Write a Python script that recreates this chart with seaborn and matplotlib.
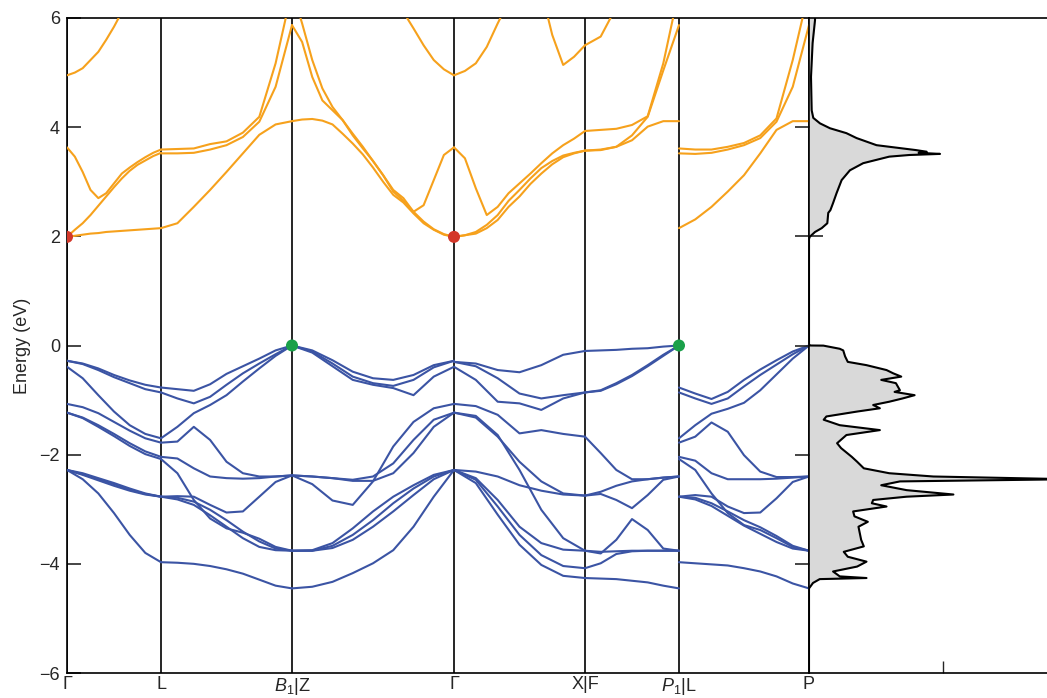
import matplotlib
matplotlib.use("Agg")
import matplotlib.pyplot as plt
import numpy as np
import pandas as pd
import seaborn as sns

sns.set_theme(style="white")
plt.rcParams["font.family"] = ["Liberation Sans", "DejaVu Sans"]
plt.rcParams["mathtext.fontset"] = "custom"
plt.rcParams["mathtext.rm"] = "Liberation Sans"
plt.rcParams["mathtext.it"] = "Liberation Sans:italic"

# ---------------- high-symmetry path ----------------
kpath_pos = [0.0, 0.94, 2.25, 3.87, 5.18, 6.12, 7.42]
kpath_labels = ["Γ", "L", "$B_1$|Z", "Γ", "X|F", "$P_1$|L", "P"]

# ---------------- k grids of the path segments (valence) ----------------
k_gamma_L = [0.0, 0.157, 0.313, 0.47, 0.627, 0.783, 0.94]
k_L_B1 = [0.94, 1.104, 1.268, 1.431, 1.595, 1.759, 1.923, 2.086, 2.25]
k_Z_gamma = [2.25, 2.4525, 2.655, 2.8575, 3.06, 3.2625, 3.465, 3.6675, 3.87]
k_gamma_X = [3.87, 4.088, 4.307, 4.525, 4.743, 4.962, 5.18]
k_F_P1 = [5.18, 5.337, 5.493, 5.65, 5.807, 5.963, 6.12]
k_L_P = [6.12, 6.2825, 6.445, 6.6075, 6.77, 6.9325, 7.095, 7.2575, 7.42]

# ---------------- k grids (conduction, denser where curved) ----------------
kc_gamma_L = [0.0, 0.0783, 0.1567, 0.235, 0.3133, 0.3917, 0.47, 0.5483, 0.6267,
              0.705, 0.7833, 0.8617, 0.94]
kc_L_B1 = k_L_B1
kc_Z_gamma = [2.25, 2.35125, 2.4525, 2.55375, 2.655, 2.75625, 2.8575, 2.95875, 3.06,
              3.16125, 3.2625, 3.36375, 3.465, 3.56625, 3.6675, 3.76875, 3.87]
kc_gamma_X = [3.87, 3.9792, 4.0883, 4.1975, 4.3067, 4.4158, 4.525, 4.6342, 4.7433,
              4.8525, 4.9617, 5.0708, 5.18]
kc_F_P1 = k_F_P1
kc_L_P = k_L_P

# ---------------- valence bands (eV) ----------------
vb_gamma_L = [
    [-0.28, -0.33, -0.42, -0.54, -0.64, -0.72, -0.77],
    [-0.28, -0.34, -0.45, -0.58, -0.69, -0.80, -0.86],
    [-0.39, -0.60, -0.91, -1.21, -1.46, -1.62, -1.70],
    [-1.07, -1.13, -1.24, -1.40, -1.56, -1.70, -1.78],
    [-1.23, -1.32, -1.46, -1.62, -1.79, -1.94, -2.04],
    [-1.23, -1.33, -1.49, -1.66, -1.84, -1.99, -2.08],
    [-2.28, -2.34, -2.43, -2.52, -2.62, -2.71, -2.77],
    [-2.28, -2.36, -2.45, -2.54, -2.64, -2.72, -2.77],
    [-2.28, -2.37, -2.47, -2.57, -2.66, -2.73, -2.77],
    [-2.28, -2.45, -2.71, -3.07, -3.47, -3.80, -3.97],
]
vb_L_B1 = [
    [-0.77, -0.80, -0.83, -0.71, -0.52, -0.38, -0.24, -0.09, 0.00],
    [-0.86, -0.97, -1.06, -0.94, -0.72, -0.51, -0.33, -0.16, 0.00],
    [-1.70, -1.49, -1.24, -1.09, -0.91, -0.66, -0.42, -0.19, 0.00],
    [-1.78, -1.76, -1.49, -1.73, -2.13, -2.34, -2.40, -2.40, -2.38],
    [-2.04, -2.07, -2.25, -2.40, -2.43, -2.44, -2.43, -2.40, -2.38],
    [-2.08, -2.34, -2.83, -3.17, -3.35, -3.43, -3.54, -3.69, -3.76],
    [-2.77, -2.76, -2.77, -2.92, -3.06, -3.04, -2.77, -2.50, -2.38],
    [-2.77, -2.79, -2.86, -3.01, -3.20, -3.41, -3.59, -3.72, -3.76],
    [-2.77, -2.82, -2.92, -3.11, -3.32, -3.53, -3.69, -3.75, -3.76],
    [-3.97, -3.98, -4.00, -4.04, -4.10, -4.18, -4.29, -4.40, -4.45],
]
vb_Z_gamma = [
    [0.00, -0.09, -0.27, -0.48, -0.60, -0.63, -0.54, -0.36, -0.28],
    [0.00, -0.11, -0.33, -0.57, -0.69, -0.74, -0.63, -0.40, -0.28],
    [0.00, -0.13, -0.38, -0.63, -0.72, -0.78, -0.91, -0.57, -0.39],
    [-2.38, -2.54, -2.84, -2.92, -2.49, -1.85, -1.40, -1.15, -1.07],
    [-2.38, -2.40, -2.43, -2.46, -2.40, -2.16, -1.73, -1.36, -1.23],
    [-2.38, -2.40, -2.43, -2.48, -2.48, -2.34, -1.97, -1.49, -1.23],
    [-3.76, -3.75, -3.62, -3.35, -3.04, -2.77, -2.56, -2.37, -2.28],
    [-3.76, -3.76, -3.67, -3.47, -3.20, -2.89, -2.62, -2.40, -2.28],
    [-3.76, -3.76, -3.71, -3.56, -3.32, -3.04, -2.74, -2.45, -2.28],
    [-4.45, -4.42, -4.33, -4.17, -3.99, -3.75, -3.32, -2.77, -2.28],
]
vb_gamma_X = [
    [-0.30, -0.33, -0.45, -0.49, -0.36, -0.17, -0.10],
    [-0.30, -0.38, -0.60, -0.88, -0.97, -0.91, -0.86],
    [-0.39, -0.63, -1.03, -1.06, -1.18, -0.97, -0.86],
    [-1.07, -1.11, -1.27, -1.61, -1.55, -1.62, -1.67],
    [-1.23, -1.32, -1.67, -2.13, -2.49, -2.71, -2.75],
    [-1.23, -1.29, -1.64, -2.28, -3.01, -3.53, -3.76],
    [-2.28, -2.31, -2.40, -2.56, -2.66, -2.73, -2.75],
    [-2.28, -2.43, -2.83, -3.32, -3.62, -3.74, -3.76],
    [-2.28, -2.46, -2.95, -3.47, -3.84, -4.04, -4.08],
    [-2.28, -2.52, -3.10, -3.65, -4.02, -4.22, -4.26],
]
vb_F_P1 = [
    [-0.10, -0.09, -0.08, -0.06, -0.05, -0.02, 0.00],
    [-0.86, -0.82, -0.69, -0.54, -0.36, -0.17, 0.00],
    [-0.86, -0.83, -0.71, -0.56, -0.38, -0.19, 0.00],
    [-1.67, -1.97, -2.28, -2.45, -2.45, -2.42, -2.40],
    [-2.75, -2.72, -2.83, -2.98, -2.74, -2.46, -2.40],
    [-2.75, -2.68, -2.57, -2.49, -2.45, -2.42, -2.40],
    [-3.76, -3.81, -3.56, -3.18, -3.38, -3.72, -3.76],
    [-4.08, -3.99, -3.82, -3.77, -3.76, -3.76, -3.76],
    [-3.76, -3.78, -3.77, -3.76, -3.76, -3.76, -3.76],
    [-4.26, -4.27, -4.28, -4.31, -4.34, -4.40, -4.45],
]
vb_L_P = [
    [-0.77, -0.88, -0.98, -0.85, -0.63, -0.44, -0.27, -0.11, 0.00],
    [-0.86, -0.97, -1.07, -0.97, -0.75, -0.54, -0.35, -0.16, 0.00],
    [-1.70, -1.46, -1.25, -1.16, -1.05, -0.82, -0.53, -0.24, 0.00],
    [-1.78, -1.67, -1.41, -1.58, -2.01, -2.31, -2.41, -2.41, -2.40],
    [-2.04, -2.11, -2.34, -2.45, -2.45, -2.45, -2.44, -2.42, -2.40],
    [-2.08, -2.28, -2.71, -3.07, -3.29, -3.38, -3.53, -3.69, -3.76],
    [-2.77, -2.74, -2.77, -2.95, -3.07, -3.06, -2.80, -2.50, -2.40],
    [-2.77, -2.79, -2.89, -3.04, -3.20, -3.33, -3.49, -3.67, -3.76],
    [-2.77, -2.82, -2.94, -3.12, -3.30, -3.45, -3.60, -3.72, -3.76],
    [-3.97, -3.99, -4.01, -4.03, -4.08, -4.14, -4.23, -4.36, -4.45],
]

# ---------------- conduction bands (eV) ----------------
cb_gamma_L = [
    [1.99, 2.01, 2.03, 2.05, 2.06, 2.08, 2.09, 2.10, 2.11, 2.12, 2.13, 2.14, 2.15],
    [1.99, 2.12, 2.24, 2.39, 2.56, 2.73, 2.90, 3.06, 3.20, 3.31, 3.39, 3.47, 3.53],
    [3.63, 3.46, 3.18, 2.85, 2.70, 2.79, 2.97, 3.15, 3.26, 3.36, 3.45, 3.53, 3.59],
    [4.95, 5.00, 5.08, 5.23, 5.38, 5.60, 5.84, 6.11, 6.30, 6.50, 6.70, 6.80, 6.90],
]
cb_L_B1 = [
    [2.15, 2.24, 2.54, 2.85, 3.18, 3.52, 3.86, 4.05, 4.11],
    [3.52, 3.52, 3.53, 3.59, 3.67, 3.82, 4.10, 4.74, 5.87],
    [3.59, 3.60, 3.61, 3.69, 3.74, 3.90, 4.19, 5.17, 6.51],
]
cb_Z_gamma = [
    [4.11, 4.14, 4.15, 4.12, 4.05, 3.88, 3.70, 3.50, 3.26, 3.00, 2.76, 2.62, 2.42, 2.24, 2.12, 2.03, 1.99],
    [5.87, 5.56, 4.92, 4.49, 4.31, 4.13, 3.88, 3.64, 3.38, 3.12, 2.82, 2.65, 2.45, 2.27, 2.13, 2.04, 1.99],
    [6.51, 5.90, 5.23, 4.71, 4.37, 4.13, 3.85, 3.61, 3.38, 3.12, 2.85, 2.70, 2.45, 2.57, 3.03, 3.49, 3.63],
    [7.20, 7.20, 7.20, 7.20, 7.20, 7.20, 7.20, 7.20, 7.00, 6.80, 6.51, 6.11, 5.81, 5.50, 5.23, 5.06, 4.95],
]
cb_gamma_X = [
    [1.99, 2.02, 2.05, 2.15, 2.30, 2.54, 2.73, 2.96, 3.15, 3.32, 3.45, 3.52, 3.57],
    [1.99, 2.02, 2.08, 2.21, 2.39, 2.65, 2.85, 3.06, 3.25, 3.38, 3.48, 3.53, 3.57],
    [3.63, 3.43, 2.88, 2.39, 2.54, 2.79, 2.97, 3.15, 3.34, 3.52, 3.67, 3.79, 3.93],
    [4.95, 5.03, 5.17, 5.47, 5.90, 6.30, 6.60, 6.70, 6.50, 5.69, 5.14, 5.29, 5.50],
]
cb_F_P1 = [
    [3.57, 3.58, 3.64, 3.76, 4.01, 4.11, 4.11],
    [3.57, 3.59, 3.64, 3.85, 4.19, 5.04, 5.87],
    [3.93, 3.95, 3.97, 4.04, 4.20, 5.17, 6.51],
    [5.50, 5.66, 6.20, 6.80, 7.00, 7.00, 7.00],
]
cb_L_P = [
    [2.15, 2.31, 2.54, 2.82, 3.12, 3.52, 3.95, 4.11, 4.11],
    [3.52, 3.51, 3.53, 3.59, 3.67, 3.80, 4.10, 4.74, 5.87],
    [3.61, 3.59, 3.59, 3.64, 3.71, 3.85, 4.16, 5.23, 6.51],
]

# band extrema markers
cbm_k = [0.0, 3.87]
cbm_e = [1.99, 1.99]
vbm_k = [2.25, 6.12]
vbm_e = [0.0, 0.0]

# ---------------- density of states ----------------
dos_energy = [6.00, 5.96, 5.54, 4.92, 4.31, 4.17, 4.07, 3.98, 3.89, 3.80, 3.67, 3.58,
              3.55, 3.53, 3.51, 3.49, 3.46, 3.34, 3.21, 3.03, 2.79, 2.61, 2.48, 2.43,
              2.24, 2.15, 2.08, 1.99, 1.95, 0.02,
              0.00, -0.002, -0.06, -0.09, -0.20, -0.30, -0.36, -0.45, -0.51, -0.57,
              -0.63, -0.69, -0.82, -0.85, -0.91, -0.97, -1.03, -1.09, -1.15, -1.21,
              -1.30, -1.36, -1.46, -1.55, -1.64, -1.79, -1.88, -2.04, -2.13, -2.25,
              -2.34, -2.40, -2.45, -2.49, -2.56, -2.65, -2.73, -2.77, -2.83, -2.89,
              -2.95, -3.04, -3.13, -3.23, -3.32, -3.44, -3.56, -3.68, -3.78, -3.87,
              -3.96, -4.05, -4.14, -4.23, -4.26, -4.28, -4.35, -4.45, -6.00]
dos_value = [0.045, 0.045, 0.027, 0.015, 0.020, 0.032, 0.082, 0.157, 0.280, 0.356, 0.505, 0.800,
             0.880, 0.820, 0.980, 0.750, 0.600, 0.405, 0.306, 0.244, 0.206, 0.180, 0.160, 0.144,
             0.137, 0.095, 0.045, 0.005, 0.0, 0.0,
             0.01, 0.107, 0.23, 0.256, 0.27, 0.29, 0.43, 0.58, 0.63, 0.69,
             0.54, 0.65, 0.68, 0.64, 0.79, 0.70, 0.60, 0.48, 0.53, 0.36,
             0.13, 0.11, 0.23, 0.53, 0.28, 0.21, 0.24, 0.32, 0.36, 0.41,
             0.60, 0.93, 1.95, 0.68, 0.54, 0.73, 1.08, 0.73, 0.48, 0.47,
             0.58, 0.33, 0.34, 0.44, 0.37, 0.38, 0.39, 0.41, 0.26, 0.29,
             0.43, 0.36, 0.18, 0.23, 0.43, 0.08, 0.03, 0.0, 0.0]

# ---------------- build long-form table ----------------
segments = [
    (k_gamma_L, vb_gamma_L, kc_gamma_L, cb_gamma_L),
    (k_L_B1, vb_L_B1, kc_L_B1, cb_L_B1),
    (k_Z_gamma, vb_Z_gamma, kc_Z_gamma, cb_Z_gamma),
    (k_gamma_X, vb_gamma_X, kc_gamma_X, cb_gamma_X),
    (k_F_P1, vb_F_P1, kc_F_P1, cb_F_P1),
    (k_L_P, vb_L_P, kc_L_P, cb_L_P),
]
rows = []
for s, (kv_grid, vb, kc_grid, cb) in enumerate(segments):
    for kind, kk, bands in (("valence", kv_grid, vb), ("conduction", kc_grid, cb)):
        for b, vals in enumerate(bands):
            for kv, ev in zip(kk, vals):
                rows.append((kv, ev, f"{kind}-{s}-{b}", kind))
df = pd.DataFrame(rows, columns=["k", "E", "line", "kind"])

blue = "#3b54a4"
orange = "#f6a11c"

fig = plt.figure(figsize=(10.47, 6.98), dpi=100)
W, H = 1047, 698
ax = fig.add_axes([67 / W, 1 - 673 / H, (809 - 67) / W, (673 - 18) / H])
ax2 = fig.add_axes([809 / W, 1 - 673 / H, (1047 - 809) / W, (673 - 18) / H])

sns.lineplot(data=df, x="k", y="E", units="line", hue="kind",
             palette={"valence": blue, "conduction": orange},
             estimator=None, sort=False, legend=False, lw=1.5, ax=ax, zorder=3)

for kp in kpath_pos:
    ax.axvline(kp, color="black", lw=1.2, zorder=2)

sns.scatterplot(x=cbm_k, y=cbm_e, color="#d4382a", s=75, edgecolor="none", ax=ax, zorder=5)
sns.scatterplot(x=vbm_k, y=vbm_e, color="#1aa04a", s=75, edgecolor="none", ax=ax, zorder=5)

ax.set_xlim(0, 7.42)
ax.set_ylim(-6, 6)
ax.set_xticks(kpath_pos)
ax.set_xticklabels(kpath_labels, fontsize=13)
ax.set_yticks([-6, -4, -2, 0, 2, 4, 6])
ax.tick_params(axis="x", length=0, pad=2)
ax.tick_params(axis="y", direction="in", length=10, width=1.2, labelsize=13, pad=5, left=True)
ax.set_xlabel("")
ax.set_ylabel("Energy (eV)", fontsize=13, labelpad=6)
for sp in ax.spines.values():
    sp.set_color("black")
    sp.set_linewidth(1.2)
ax.spines["right"].set_visible(False)

# DOS panel
ax2.fill_betweenx(dos_energy, 0, dos_value, color="#d9d9d9", lw=0, zorder=1)
sns.lineplot(x=dos_value, y=dos_energy, sort=False, estimator=None, color="black",
             lw=1.5, ax=ax2, zorder=2)
ax2.set_xlim(0, 1.78)
ax2.set_ylim(-6, 6)
ax2.set_yticks([-4, -2, 0, 2, 4])
ax2.set_yticklabels([])
ax2.set_xticks([1.0])
ax2.set_xticklabels([])
ax2.tick_params(axis="y", direction="inout", length=20, width=1.2, left=True, right=False)
ax2.tick_params(axis="x", direction="in", length=9, width=1.0, bottom=True, top=False)
for sp in ax2.spines.values():
    sp.set_color("black")
    sp.set_linewidth(1.2)
ax2.spines["right"].set_visible(False)
ax2.set_xlabel("")
ax2.set_ylabel("")

fig.savefig("out.png", dpi=100)
